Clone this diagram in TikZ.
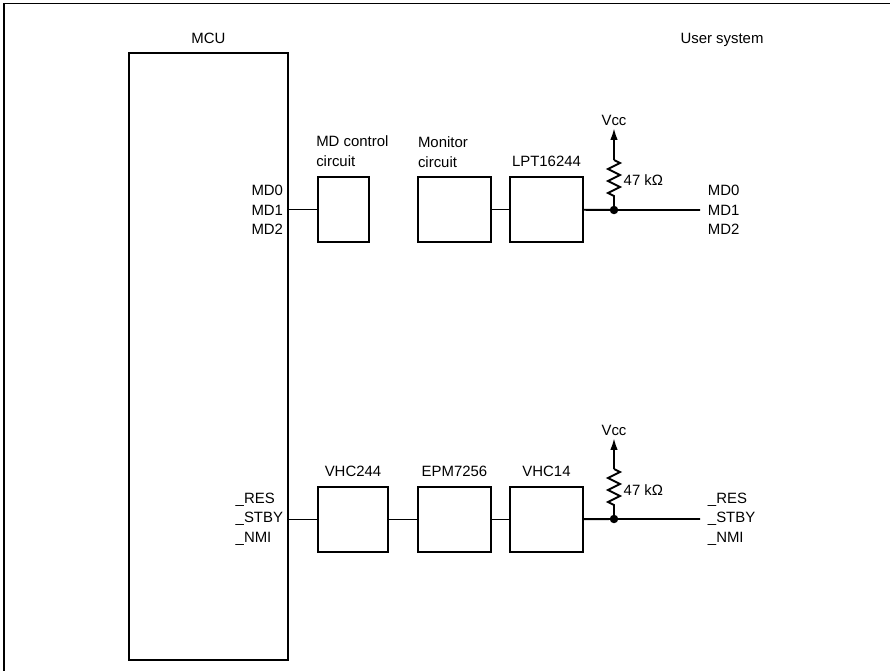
\documentclass[tikz,border=0pt]{standalone}
\usepackage{fontspec}
\setmainfont{Liberation Sans}
\usetikzlibrary{positioning, arrows.meta}

\begin{document}
\begin{tikzpicture}[
			x=0.02cm, y=-0.02cm,
			line width=1.1pt,
			box/.style={rectangle, draw, minimum width=1.46cm, minimum height=1.3cm},
			lbl/.style={font=\fontsize{8.5}{11.2}\selectfont, inner sep=1pt},
			pins/.style={lbl, inner sep=0pt},
			arrow/.style={-{Latex[length=2.4mm, width=1.5mm]}},
			dot/.style={circle, fill, inner sep=0pt, minimum size=0.17cm}
			]
			\clip (0,0) rectangle (890,671);
			% Frame
			\draw (4,3.5) rectangle (900,700);
			
			% Nodes
			\node (mcu) [rectangle, draw, minimum width=3.18cm, minimum height=12.14cm] at (208.5,356.5) {};
			\node [lbl, above=0.12cm of mcu] {MCU};
			\node [lbl] at (722,40) {User system};
			
			\node (mdctl) [box, minimum width=1.02cm] at (343.5,209.5) {};
			\node (monitor) [box] at (454.5,209.5) {};
			\node (lpt) [box] at (546.5,209.5) {};
			\node [lbl, align=left, above=0.14cm of mdctl.north west, anchor=south west, xshift=-2pt] {MD control\\circuit};
			\node [lbl, align=left, above=0.12cm of monitor.north west, anchor=south west, xshift=-1pt] {Monitor\\circuit};
			\node [lbl, above=0.14cm of lpt] {LPT16244};
			
			\node (vhca) [box, minimum width=1.4cm] at (353,519.5) {};
			\node (epm) [box] at (454.5,519.5) {};
			\node (vhcb) [box] at (546.5,519.5) {};
			\node [lbl, above=0.14cm of vhca] {VHC244};
			\node [lbl, above=0.14cm of epm] {EPM7256};
			\node [lbl, above=0.14cm of vhcb] {VHC14};
			
			% Pins
			\node [pins, anchor=east, align=right] at (284,210) {MD0\\MD1\\MD2};
			\node [pins, anchor=west, align=left] at (707,210) {MD0\\MD1\\MD2};
			\node [pins, anchor=east, align=left] at (284,519) {\_RES\\\_STBY\\\_NMI};
			\node [pins, anchor=west, align=left] at (707,519) {\_RES\\\_STBY\\\_NMI};
			
			% Pull-ups
			\coordinate (j1) at (614,210);
			\coordinate (out1) at (700,210);
			\node (vcc1) [lbl] at (614,120) {Vcc};
			\node [lbl, anchor=west] at (621,180) {47 kΩ};
			\coordinate (j2) at (614,519);
			\coordinate (out2) at (700,519);
			\node (vcc2) [lbl] at (614,430) {Vcc};
			\node [lbl, anchor=west] at (621,490) {47 kΩ};
			
			% Wires
			\draw (mdctl.west -| mcu.east) -- (mdctl.west);
			\draw (monitor) -- (lpt);
			\draw (lpt) -- (j1) -- (out1);
			\draw (j1) -- ++(0,-14) -- ++(-6,-3) -- ++(12,-6) -- ++(-12,-6) -- ++(12,-6) -- ++(-12,-6) -- ++(12,-6) -- ++(-6,-3) coordinate (r1);
			\draw [arrow] (r1) -- (vcc1);
			\node [dot] at (j1) {};
			
			\draw (vhca.west -| mcu.east) -- (vhca.west);
			\draw (vhca) -- (epm);
			\draw (epm) -- (vhcb);
			\draw (vhcb) -- (j2) -- (out2);
			\draw (j2) -- ++(0,-14) -- ++(-6,-3) -- ++(12,-6) -- ++(-12,-6) -- ++(12,-6) -- ++(-12,-6) -- ++(12,-6) -- ++(-6,-3) coordinate (r2);
			\draw [arrow] (r2) -- (vcc2);
			\node [dot] at (j2) {};
		\end{tikzpicture}
\end{document}
